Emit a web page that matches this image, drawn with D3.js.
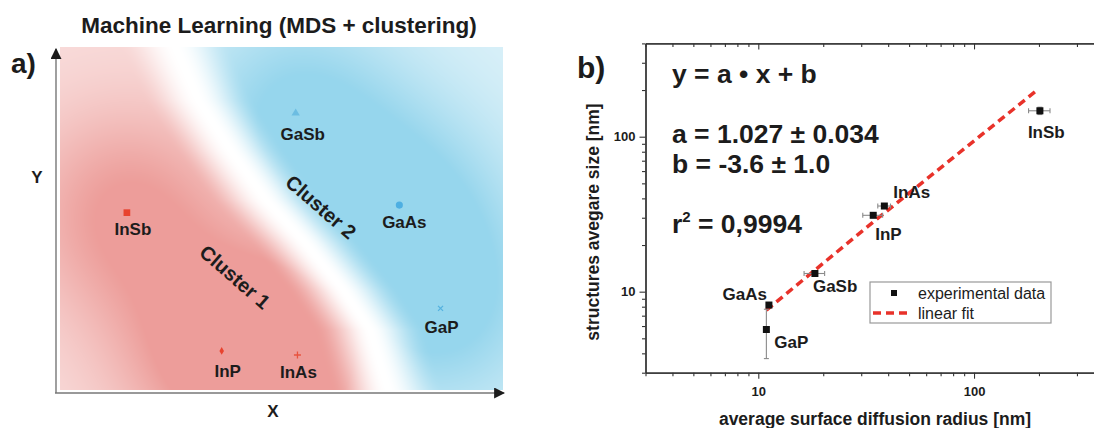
<!DOCTYPE html>
<html>
<head>
<meta charset="utf-8">
<script src="https://cdn.jsdelivr.net/npm/d3@7"></script>
<style>
  body { margin: 0; background: #fff; }
  svg text { font-family: "Liberation Sans", Arial, sans-serif; fill: #1c1c1c; }
</style>
</head>
<body>
<div id="chart"></div>
<script>
// ---- panel a: MDS map (arbitrary units 0..100) ----
const mdsNames   = ["InSb", "InP", "InAs", "GaSb", "GaAs", "GaP"];
const mdsX       = [15.1, 36.5, 53.6, 53.2, 76.6, 85.9];
const mdsY       = [51.7, 11.4, 10.2, 80.7, 53.9, 23.8];
const mdsCluster = [1, 1, 1, 2, 2, 2];
// white band between the two clusters
const boundaryX  = [26.0, 31.2, 38.4, 46.5, 55.3, 63.9, 70.0, 74.0];
const boundaryY  = [100, 84.5, 70.0, 55.4, 42.9, 29.2, 17.5, 0];

// ---- panel b: size vs diffusion radius (log-log) ----
const sampleNames = ["GaAs", "GaP", "GaSb", "InP", "InAs", "InSb"];
const radius      = [11.2, 10.9, 18.3, 34.1, 38.4, 202];
const radiusErr   = [0, 0, 2.0, 3.6, 2.6, 23];
const sizeNm      = [8.2, 5.7, 13.1, 31.1, 35.7, 147];
const sizeErr     = [0, 2.0, 0, 0, 0, 8];
const fitX        = [10.9, 35, 192];
const fitY        = [7.6, 29, 195];
const majorTicks  = [10, 100];
const fitLines    = ["y = a \u2022 x + b", "a = 1.027 \u00b1 0.034", "b = -3.6 \u00b1 1.0"];

const svg = d3.select("#chart").append("svg")
    .attr("width", 1094)
    .attr("height", 428);

// ================= panel a =================
const pa = {left: 60, right: 503, top: 47, bottom: 390};
const xa = d3.scaleLinear().domain([0, 100]).range([pa.left, pa.right]);
const ya = d3.scaleLinear().domain([0, 100]).range([pa.bottom, pa.top]);

// background field: colour by side of the boundary, strength by nearby points
const bx = d3.scaleLinear()
    .domain(boundaryY.map(d => ya(d)))
    .range(boundaryX.map(d => xa(d)))
    .clamp(true);
const pts = mdsX.map((d, i) => ({x: xa(d), y: ya(mdsY[i]), c: mdsCluster[i]}));
const W = pa.right - pa.left, H = pa.bottom - pa.top;
const cv = document.createElement("canvas");
cv.width = W; cv.height = H;
const ctx = cv.getContext("2d");
const img = ctx.createImageData(W, H);
const deep = {1: d3.rgb("#ea908c"), 2: d3.rgb("#88d0ea")};
const sig2 = 2 * 75 * 75;
for (let j = 0; j < H; j++) {
    const py = pa.top + j + 0.5;
    const b = bx(py);
    for (let i = 0; i < W; i++) {
        const px = pa.left + i + 0.5;
        const dx = (px - b) * 0.72;
        const side = dx < 0 ? 1 : 2;
        let k = 0;
        pts.forEach(p => {
            if (p.c === side) k += Math.exp(-((px - p.x) ** 2 + (py - p.y) ** 2) / sig2);
        });
        let e = Math.min(1, Math.abs(dx) / 40);
        e = e * e * (3 - 2 * e);
        const s = e * Math.min(0.88, 0.3 + 0.6 * k);
        const c = deep[side];
        const o = (j * W + i) * 4;
        img.data[o]     = 255 + (c.r - 255) * s;
        img.data[o + 1] = 255 + (c.g - 255) * s;
        img.data[o + 2] = 255 + (c.b - 255) * s;
        img.data[o + 3] = 255;
    }
}
ctx.putImageData(img, 0, 0);
svg.append("image")
    .attr("x", pa.left).attr("y", pa.top)
    .attr("width", W).attr("height", H)
    .attr("href", cv.toDataURL());

// axes with arrows
svg.append("defs").append("marker")
    .attr("id", "arrow")
    .attr("viewBox", "0 0 10 10")
    .attr("refX", 9).attr("refY", 5)
    .attr("markerWidth", 11).attr("markerHeight", 11)
    .attr("markerUnits", "userSpaceOnUse")
    .attr("orient", "auto")
    .append("path").attr("d", "M0,0L10,5L0,10Z").attr("fill", "#1c1c1c");

svg.append("line")
    .attr("x1", 56).attr("y1", 393).attr("x2", 56).attr("y2", 49)
    .attr("stroke", "#777").attr("stroke-width", 1.4)
    .attr("marker-end", "url(#arrow)");
svg.append("line")
    .attr("x1", 55).attr("y1", 393).attr("x2", 504).attr("y2", 393)
    .attr("stroke", "#777").attr("stroke-width", 1.4)
    .attr("marker-end", "url(#arrow)");

svg.append("text").attr("x", 279).attr("y", 33)
    .attr("text-anchor", "middle").attr("font-size", 22.5).attr("font-weight", "bold")
    .text("Machine Learning (MDS + clustering)");
svg.append("text").attr("x", 11).attr("y", 73)
    .attr("font-size", 28).attr("font-weight", "bold").text("a)");
svg.append("text").attr("x", 37).attr("y", 183)
    .attr("text-anchor", "middle").attr("font-size", 17).attr("font-weight", "bold").text("Y");
svg.append("text").attr("x", 273).attr("y", 417)
    .attr("text-anchor", "middle").attr("font-size", 17).attr("font-weight", "bold").text("X");

// cluster captions
[["Cluster 1", 235, 277], ["Cluster 2", 321, 207]].forEach(c => {
    svg.append("text")
        .attr("transform", `translate(${c[1]},${c[2]}) rotate(41)`)
        .attr("text-anchor", "middle").attr("dy", "0.35em")
        .attr("font-size", 20).attr("font-weight", "bold")
        .text(c[0]);
});

// markers
const markerStyle = {
    InSb: {type: d3.symbolSquare, size: 45, fill: "#e8432f"},
    InP:  {type: d3.symbolDiamond, size: 18, fill: "#e8432f"},
    InAs: {plus: true, stroke: "#e8533f"},
    GaSb: {type: d3.symbolTriangle, size: 30, fill: "#6cbde2"},
    GaAs: {type: d3.symbolCircle, size: 40, fill: "#4eafe2"},
    GaP:  {cross: true, stroke: "#55b2df"}
};
const labelA = {InSb: [6, 22], InP: [6, 26], InAs: [1, 23], GaSb: [7, 27], GaAs: [5, 23], GaP: [1, 25]};

mdsNames.forEach((n, i) => {
    const x = xa(mdsX[i]), y = ya(mdsY[i]), st = markerStyle[n];
    if (st.plus) {
        svg.append("path").attr("d", `M${x - 3.5},${y}H${x + 3.5}M${x},${y - 3.5}V${y + 3.5}`)
            .attr("stroke", st.stroke).attr("stroke-width", 1.3);
    } else if (st.cross) {
        svg.append("path").attr("d", `M${x - 2.5},${y - 2.5}L${x + 2.5},${y + 2.5}M${x - 2.5},${y + 2.5}L${x + 2.5},${y - 2.5}`)
            .attr("stroke", st.stroke).attr("stroke-width", 1.3);
    } else {
        svg.append("path").attr("transform", `translate(${x},${y})`)
            .attr("d", d3.symbol().type(st.type).size(st.size)())
            .attr("fill", st.fill);
    }
    svg.append("text")
        .attr("x", x + labelA[n][0]).attr("y", y + labelA[n][1])
        .attr("text-anchor", "middle").attr("font-size", 17).attr("font-weight", "bold")
        .text(n);
});

// ================= panel b =================
const xb = d3.scaleLog().domain([3, 400]).range([645.5, 1103.9]);
const yb = d3.scaleLog().domain([3, 400]).range([372.7, 43.4]);
const minorX = xb.ticks().filter(d => !majorTicks.includes(d));
const minorY = yb.ticks().filter(d => !majorTicks.includes(d));

function styleAxis(g) {
    g.selectAll("path.domain").attr("stroke", "#333").attr("stroke-width", 1.3);
    g.selectAll(".tick line").attr("stroke", "#333").attr("stroke-width", 1.1);
    g.selectAll(".tick text").attr("font-size", 13).attr("font-weight", "bold")
        .attr("font-family", "Liberation Sans, Arial, sans-serif").attr("fill", "#1c1c1c");
}

// bottom
svg.append("g").attr("transform", "translate(0,372.7)")
    .call(d3.axisBottom(xb).tickValues(minorX).tickFormat("").tickSize(3.5).tickSizeOuter(0)).call(styleAxis);
svg.append("g").attr("transform", "translate(0,372.7)")
    .call(d3.axisBottom(xb).tickValues(majorTicks).tickFormat(d3.format("d")).tickSize(6).tickPadding(8).tickSizeOuter(0))
    .call(styleAxis);
// top (inward ticks)
svg.append("g").attr("transform", "translate(0,43.4)")
    .call(d3.axisTop(xb).tickValues(minorX).tickFormat("").tickSize(-3.5).tickSizeOuter(0)).call(styleAxis);
svg.append("g").attr("transform", "translate(0,43.4)")
    .call(d3.axisTop(xb).tickValues(majorTicks).tickFormat("").tickSize(-6).tickSizeOuter(0)).call(styleAxis);
// left
svg.append("g").attr("transform", "translate(645.5,0)")
    .call(d3.axisLeft(yb).tickValues(minorY).tickFormat("").tickSize(3.5).tickSizeOuter(0)).call(styleAxis);
svg.append("g").attr("transform", "translate(645.5,0)")
    .call(d3.axisLeft(yb).tickValues(majorTicks).tickFormat(d3.format("d")).tickSize(6).tickPadding(4).tickSizeOuter(0))
    .call(styleAxis);

// axis titles
svg.append("text").attr("x", 875).attr("y", 425)
    .attr("text-anchor", "middle").attr("font-size", 17.5).attr("font-weight", "bold")
    .text("average surface diffusion radius [nm]");
svg.append("text").attr("transform", "translate(599,222) rotate(-90)")
    .attr("text-anchor", "middle").attr("font-size", 17.5).attr("font-weight", "bold")
    .text("structures avegare size [nm]");
svg.append("text").attr("x", 577).attr("y", 78)
    .attr("font-size", 30).attr("font-weight", "bold").text("b)");

// fit text
const fitTextY = [83, 143, 173];
fitLines.forEach((t, i) => {
    svg.append("text").attr("x", 672).attr("y", fitTextY[i])
        .attr("font-size", 26.5).attr("font-weight", "bold").text(t);
});
const r2 = svg.append("text").attr("x", 672).attr("y", 233)
    .attr("font-size", 26.5).attr("font-weight", "bold");
r2.append("tspan").text("r");
r2.append("tspan").attr("font-size", 15).attr("dy", -11).text("2");
r2.append("tspan").attr("dy", 11).text(" = 0,9994");

// fit line
svg.append("path")
    .datum(fitX.map((d, i) => [d, fitY[i]]))
    .attr("d", d3.line().x(d => xb(d[0])).y(d => yb(d[1])))
    .attr("fill", "none").attr("stroke", "#e8322a").attr("stroke-width", 3.5)
    .attr("stroke-dasharray", "8,5");

// error bars
const eb = svg.append("g").attr("stroke", "#8a8a8a").attr("stroke-width", 1.1);
sampleNames.forEach((n, i) => {
    const x = xb(radius[i]), y = yb(sizeNm[i]);
    if (radiusErr[i] > 0) {
        const x0 = xb(radius[i] - radiusErr[i]), x1 = xb(radius[i] + radiusErr[i]);
        eb.append("line").attr("x1", x0).attr("x2", x1).attr("y1", y).attr("y2", y);
        eb.append("line").attr("x1", x0).attr("x2", x0).attr("y1", y - 2.5).attr("y2", y + 2.5);
        eb.append("line").attr("x1", x1).attr("x2", x1).attr("y1", y - 2.5).attr("y2", y + 2.5);
    }
    if (sizeErr[i] > 0) {
        const y0 = yb(sizeNm[i] - sizeErr[i]), y1 = yb(sizeNm[i] + sizeErr[i]);
        eb.append("line").attr("x1", x).attr("x2", x).attr("y1", y0).attr("y2", y1);
        eb.append("line").attr("x1", x - 2.5).attr("x2", x + 2.5).attr("y1", y0).attr("y2", y0);
        eb.append("line").attr("x1", x - 2.5).attr("x2", x + 2.5).attr("y1", y1).attr("y2", y1);
    }
});

// points
svg.append("g").selectAll("rect")
    .data(sampleNames)
    .join("rect")
    .attr("x", (d, i) => xb(radius[i]) - 3.5)
    .attr("y", (d, i) => yb(sizeNm[i]) - 3.5)
    .attr("width", 7).attr("height", 7)
    .attr("fill", "#111");

// point labels
const labelB = {GaAs: [-2, -5, "end"], GaP: [8, 18, "start"], GaSb: [-2, 19, "start"],
                InP: [2, 25, "start"], InAs: [9, -8, "start"], InSb: [-12, 27, "start"]};
sampleNames.forEach((n, i) => {
    svg.append("text")
        .attr("x", xb(radius[i]) + labelB[n][0]).attr("y", yb(sizeNm[i]) + labelB[n][1])
        .attr("text-anchor", labelB[n][2])
        .attr("font-size", 17).attr("font-weight", "bold").text(n);
});

// legend
const lg = svg.append("g").attr("transform", "translate(870,282)");
lg.append("rect").attr("width", 181).attr("height", 41)
    .attr("fill", "#fff").attr("stroke", "#999").attr("stroke-width", 1.2);
lg.append("rect").attr("x", 21).attr("y", 8).attr("width", 6).attr("height", 6).attr("fill", "#111");
lg.append("line").attr("x1", 3).attr("x2", 42).attr("y1", 31).attr("y2", 31)
    .attr("stroke", "#e8322a").attr("stroke-width", 3.5).attr("stroke-dasharray", "8,5");
lg.append("text").attr("x", 48).attr("y", 11).attr("dy", "0.35em")
    .attr("font-size", 16).text("experimental data");
lg.append("text").attr("x", 48).attr("y", 31).attr("dy", "0.35em")
    .attr("font-size", 16).text("linear fit");
</script>
</body>
</html>
